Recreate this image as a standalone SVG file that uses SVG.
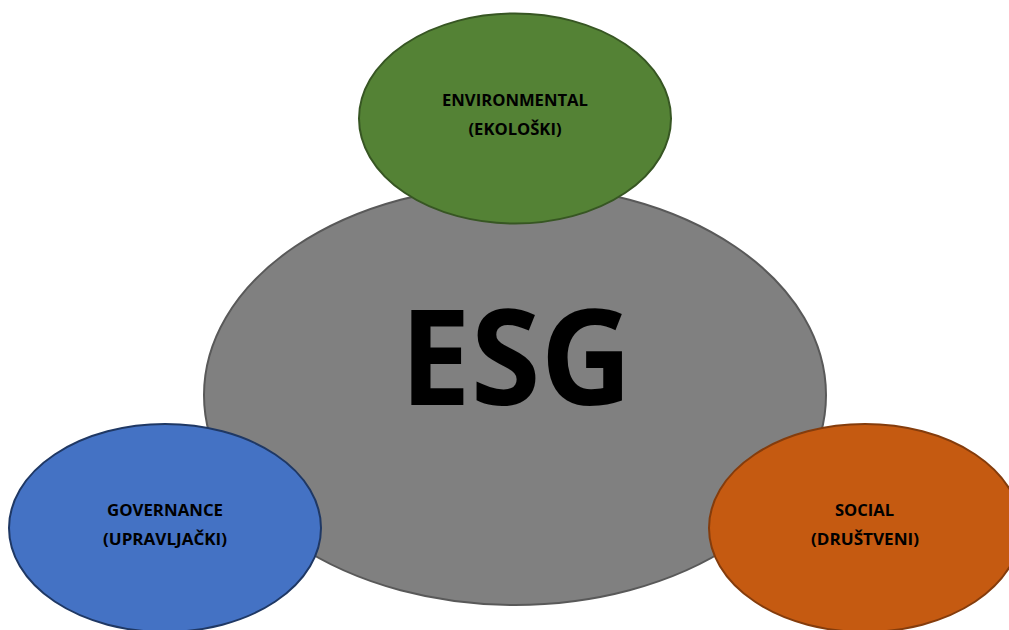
<svg xmlns="http://www.w3.org/2000/svg" width="1009" height="630" viewBox="0 0 1009 630">
<style>
.lbl{font-family:"Open Sans","Liberation Sans",sans-serif;font-weight:bold;font-size:16px;fill:#000;text-anchor:middle}
.big{font-family:"Open Sans","Liberation Sans",sans-serif;font-weight:bold;font-size:132px;fill:#000;text-anchor:middle}
</style>
<rect width="1009" height="630" fill="#fff"/>
<g id="connectors"></g>
<g id="esg">
<ellipse cx="515" cy="395" rx="311" ry="210" fill="#808080" stroke="#595959" stroke-width="2"/>
<text class="big" x="516" y="405" textLength="232" lengthAdjust="spacingAndGlyphs">ESG</text>
</g>
<g id="environmental">
<ellipse cx="515" cy="118.5" rx="156" ry="105" fill="#548235" stroke="#375623" stroke-width="2"/>
<text class="lbl" x="515" y="106" textLength="146" lengthAdjust="spacingAndGlyphs">ENVIRONMENTAL</text>
<text class="lbl" x="515" y="135" textLength="93" lengthAdjust="spacingAndGlyphs">(EKOLOŠKI)</text>
</g>
<g id="governance">
<ellipse cx="165" cy="528" rx="156" ry="104" fill="#4472C4" stroke="#1F3864" stroke-width="2"/>
<text class="lbl" x="165" y="516" textLength="116" lengthAdjust="spacingAndGlyphs">GOVERNANCE</text>
<text class="lbl" x="165" y="545" textLength="124" lengthAdjust="spacingAndGlyphs">(UPRAVLJAČKI)</text>
</g>
<g id="social">
<ellipse cx="865" cy="528" rx="156" ry="104" fill="#C55A11" stroke="#843C0C" stroke-width="2"/>
<text class="lbl" x="864.5" y="516" textLength="59" lengthAdjust="spacingAndGlyphs">SOCIAL</text>
<text class="lbl" x="865" y="545" textLength="108" lengthAdjust="spacingAndGlyphs">(DRUŠTVENI)</text>
</g>
</svg>
